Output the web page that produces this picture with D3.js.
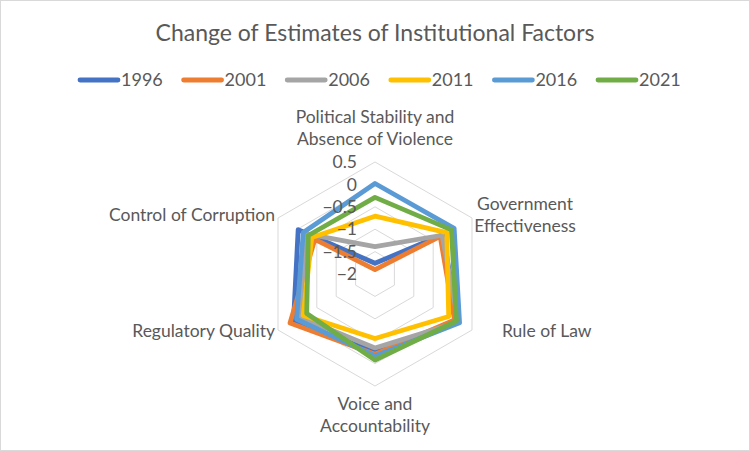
<!DOCTYPE html>
<html>
<head>
<meta charset="utf-8">
<script src="https://cdn.jsdelivr.net/npm/d3@7"></script>
<style>
  body { margin: 0; background: #fff; }
  svg { font-family: Lato, "Open Sans", sans-serif; }
</style>
</head>
<body>
<div id="chart"></div>
<script>
// radar axes (clockwise from top)
const axes = [
  ["Political Stability and", "Absence of Violence"],
  ["Government", "Effectiveness"],
  ["Rule of Law"],
  ["Voice and", "Accountability"],
  ["Regulatory Quality"],
  ["Control of Corruption"]
];
const years = ["1996", "2001", "2006", "2011", "2016", "2021"];
const v1996 = [-1.76, -0.24, 0.12, -0.26, 0.10, -0.02];
const v2001 = [-1.90, -0.32, 0.05, -0.21, 0.19, -0.45];
const v2006 = [-1.39, -0.27, 0.15, -0.35, -0.07, -0.20];
const v2011 = [-0.71, -0.15, -0.10, -0.56, -0.15, -0.37];
const v2016 = [0.02, 0.04, 0.18, -0.17, 0.02, -0.15];
const v2021 = [-0.29, -0.03, 0.10, -0.08, -0.24, -0.28];
const ticks = [-2, -1.5, -1, -0.5, 0, 0.5];

const seriesVals = [v1996, v2001, v2006, v2011, v2016, v2021];
const colors = ["#4472C4", "#ED7D31", "#A5A5A5", "#FFC000", "#5B9BD5", "#70AD47"];

const W = 750, H = 451;
const cx = 375, cy = 274, R = 112;

const svg = d3.select("#chart").append("svg")
  .attr("width", W).attr("height", H);

svg.append("rect")
  .attr("x", 0.5).attr("y", 0.5)
  .attr("width", W - 1).attr("height", H - 1)
  .attr("fill", "#fff").attr("stroke", "#d9d9d9");

const r = d3.scaleLinear().domain([-2, 0.5]).range([0, R]);
const angle = i => i * Math.PI * 2 / axes.length;

const radial = d3.lineRadial()
  .angle((d, i) => angle(i))
  .radius(d => r(d))
  .curve(d3.curveLinearClosed);

const g = svg.append("g").attr("transform", `translate(${cx},${cy})`);

// grid rings
g.selectAll(".ring")
  .data(ticks.slice(1))
  .join("path")
    .attr("class", "ring")
    .attr("d", t => radial(axes.map(() => t)))
    .attr("fill", "none")
    .attr("stroke", "#d9d9d9")
    .attr("stroke-width", 1);

// series
g.selectAll(".series")
  .data(seriesVals)
  .join("path")
    .attr("class", "series")
    .attr("d", d => radial(d))
    .attr("fill", "none")
    .attr("stroke", (d, i) => colors[i])
    .attr("stroke-width", 4.8)
    .attr("stroke-linejoin", "round");

// tick labels
g.selectAll(".tick")
  .data(ticks)
  .join("text")
    .attr("class", "tick")
    .attr("x", -18)
    .attr("y", t => -r(t))
    .attr("dy", "0.35em")
    .attr("text-anchor", "end")
    .attr("fill", "#595959")
    .attr("font-size", 17.5)
    .text(t => d3.format("")(t));

// axis labels
const labelPos = [
  {x: 0, y: -157, anchor: "middle"},
  {x: 150, y: -70, anchor: "middle"},
  {x: 127, y: 57, anchor: "start"},
  {x: 0, y: 130, anchor: "middle"},
  {x: -100, y: 57, anchor: "end"},
  {x: -100, y: -59, anchor: "end"}
];
axes.forEach((lines, i) => {
  const p = labelPos[i];
  const t = g.append("text")
    .attr("x", p.x).attr("y", p.y)
    .attr("text-anchor", p.anchor)
    .attr("fill", "#595959")
    .attr("font-size", 17.5);
  lines.forEach((ln, j) => {
    t.append("tspan").attr("x", p.x).attr("dy", j === 0 ? "0.35em" : 22).text(ln);
  });
});

// title
svg.append("text")
  .attr("x", W / 2).attr("y", 33).attr("dy", "0.35em")
  .attr("text-anchor", "middle")
  .attr("fill", "#595959")
  .attr("font-size", 23)
  .text("Change of Estimates of Institutional Factors");

// legend
const lx = d3.scalePoint().domain(years).range([78, 596]);
const leg = svg.selectAll(".leg")
  .data(years)
  .join("g")
    .attr("class", "leg")
    .attr("transform", d => `translate(${lx(d)},80)`);
leg.append("line")
  .attr("x1", 2).attr("x2", 40)
  .attr("stroke", (d, i) => colors[i])
  .attr("stroke-width", 4.8)
  .attr("stroke-linecap", "round");
leg.append("text")
  .attr("x", 43).attr("dy", "0.35em")
  .attr("fill", "#595959")
  .attr("font-size", 18)
  .text(d => d);
</script>
</body>
</html>
